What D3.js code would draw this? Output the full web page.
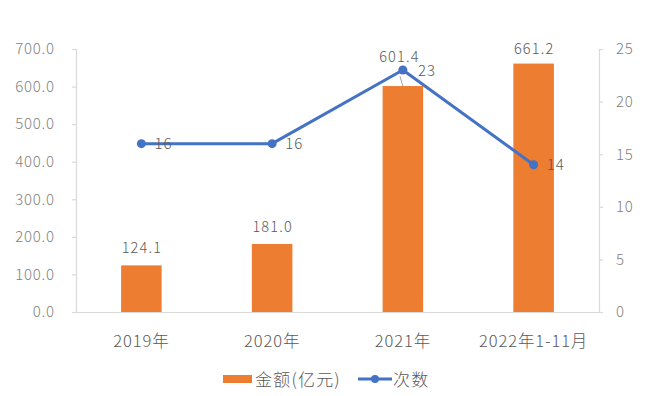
<!DOCTYPE html>
<html><head><meta charset="utf-8">
<script src="https://cdn.jsdelivr.net/npm/d3@7"></script>
<style>
html,body{margin:0;padding:0;background:#fff;}
svg text{font-family:"Noto Sans CJK SC","Noto Sans",sans-serif;font-weight:300;}
</style></head>
<body><svg id="c" width="647" height="396"></svg>
<script>
const categories = ["2019年","2020年","2021年","2022年1-11月"];
const amounts = [124.1, 181.0, 601.4, 661.2];
const counts = [16, 16, 23, 14];
const leftTicks = [0,100,200,300,400,500,600,700];
const rightTicks = [0,5,10,15,20,25];
const seriesNames = ["金额(亿元)","次数"];

const svg = d3.select("#c");
const L = 76, R = 599, T = 49, B = 312;
const axisCol = "#d9d9d9", textCol = "#595959", tickCol = "#7f7f7f";
const orange = "#ED7D31", blue = "#4472C4";

const x = d3.scaleBand().domain(categories).range([L, R]).paddingInner(0.69).paddingOuter(0.345);
const yL = d3.scaleLinear().domain([0,700]).range([B, T]);
const yR = d3.scaleLinear().domain([0,25]).range([B, T]);

// axes
const gL = svg.append("g").attr("transform",`translate(${L},0)`)
  .call(d3.axisLeft(yL).tickValues(leftTicks).tickFormat(d3.format(".1f")).tickSize(4).tickPadding(18));
const gR = svg.append("g").attr("transform",`translate(${R},0)`)
  .call(d3.axisRight(yR).tickValues(rightTicks).tickSize(4).tickPadding(13));
const gB = svg.append("g").attr("transform",`translate(0,${B})`)
  .call(d3.axisBottom(x).tickSize(0).tickPadding(23));
[gL,gR,gB].forEach(g=>{
  g.select(".domain").attr("stroke",axisCol).attr("stroke-width",1.2);
  g.selectAll(".tick line").attr("stroke",axisCol).attr("stroke-width",1.2);
  g.selectAll("text").attr("fill",tickCol).style("font-size","15px").style("letter-spacing","0.7px");
});
gL.selectAll("text").attr("dx","0.7px");
gB.selectAll("text").attr("fill",textCol).style("font-size","16.5px").style("letter-spacing","0.9px");

// bars
svg.append("g").selectAll("rect").data(amounts).join("rect")
  .attr("x",(d,i)=>x(categories[i]))
  .attr("width",x.bandwidth())
  .attr("y",d=>yL(d))
  .attr("height",d=>B-yL(d))
  .attr("fill",orange);

// bar labels
const barLabelOffset = [12,12,24,10];
svg.append("g").selectAll("text").data(amounts).join("text")
  .attr("x",(d,i)=>x(categories[i])+x.bandwidth()/2 - (i===2?4:0) + 0.6)
  .attr("y",(d,i)=>yL(d)-barLabelOffset[i])
  .attr("text-anchor","middle")
  .attr("fill",textCol).style("font-size","14.5px").style("letter-spacing","1.2px")
  .text(d=>d3.format(".1f")(d));

// leader line for 2021
{
  const i = 2, cx = x(categories[i])+x.bandwidth()/2;
  svg.append("line").attr("x1",cx-3).attr("y1",yL(amounts[i])-10)
    .attr("x2",cx).attr("y2",yL(amounts[i]))
    .attr("stroke","#a6a6a6").attr("stroke-width",1);
}

// line
const cxOf = i => x(categories[i]) + x.bandwidth()/2;
svg.append("path").datum(counts)
  .attr("d", d3.line().x((d,i)=>cxOf(i)).y(d=>yR(d)))
  .attr("fill","none").attr("stroke",blue).attr("stroke-width",3).attr("stroke-linejoin","round");
svg.append("g").selectAll("circle").data(counts).join("circle")
  .attr("cx",(d,i)=>cxOf(i)).attr("cy",d=>yR(d)).attr("r",4.5).attr("fill",blue);
svg.append("g").selectAll("text").data(counts).join("text")
  .attr("x",(d,i)=>cxOf(i)+(i===2?15:13))
  .attr("y",d=>yR(d)+5.5)
  .attr("fill",textCol).style("font-size","15px").style("letter-spacing","1.2px")
  .text(d=>d);

// legend
const lg = svg.append("g");
lg.append("rect").attr("x",223).attr("y",375).attr("width",29).attr("height",8).attr("fill",orange);
lg.append("text").attr("x",255).attr("y",386).attr("fill",textCol).style("font-size","17px").style("letter-spacing","1.2px").text(seriesNames[0]);
lg.append("line").attr("x1",358).attr("x2",392).attr("y1",379).attr("y2",379).attr("stroke",blue).attr("stroke-width",3);
lg.append("circle").attr("cx",375).attr("cy",379).attr("r",4).attr("fill",blue);
lg.append("text").attr("x",393).attr("y",386).attr("fill",textCol).style("font-size","17px").style("letter-spacing","1.2px").text(seriesNames[1]);
</script>
</body></html>
